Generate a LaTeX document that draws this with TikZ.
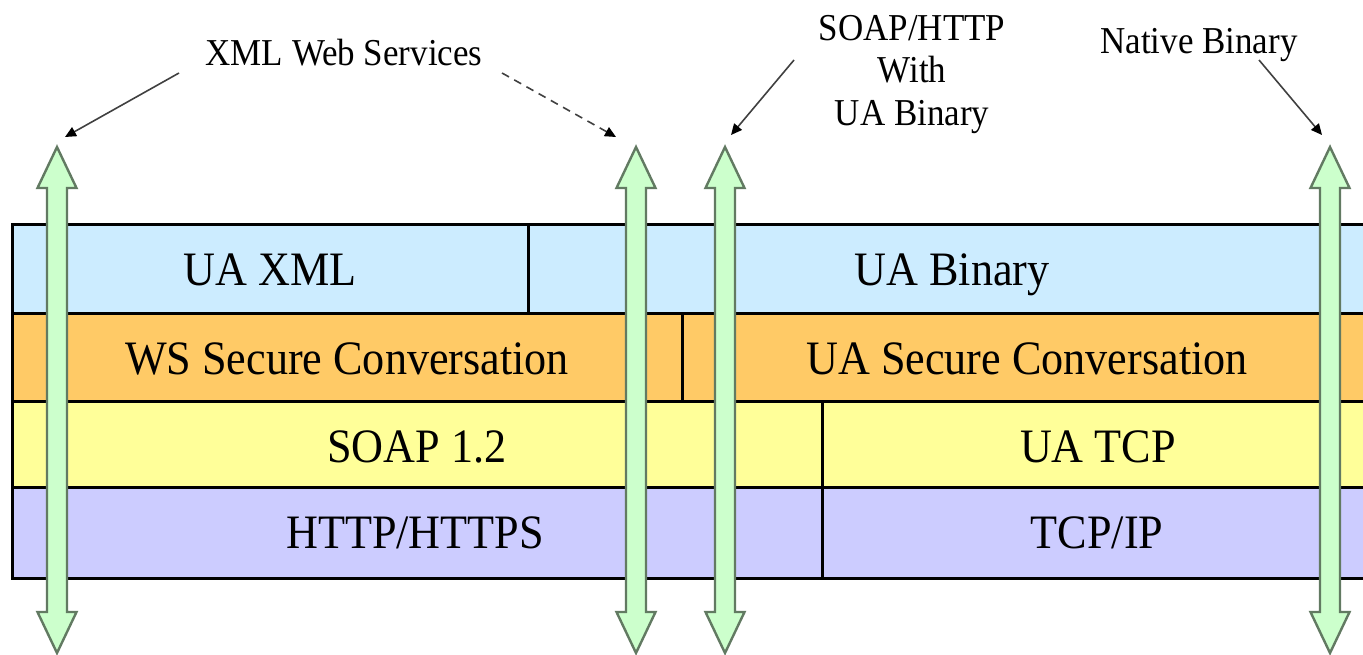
\documentclass[tikz,border=0pt]{standalone}
\usepackage{fontspec}
\setmainfont[FakeStretch=0.92]{Liberation Serif}
\usetikzlibrary{arrows.meta}

\definecolor{layerblue}{HTML}{CCECFF}
\definecolor{layerorange}{HTML}{FFCA66}
\definecolor{layeryellow}{HTML}{FFFF99}
\definecolor{layerpurple}{HTML}{CCCCFF}
\definecolor{pathgreen}{HTML}{CCFFCC}
\definecolor{pathedge}{HTML}{627A62}
\definecolor{pointer}{HTML}{404040}

\tikzset{
  cell/.style={draw=black, line width=1.5pt},
  layertext/.style={inner sep=0pt, anchor=base, font=\fontsize{24}{28}\selectfont},
  tagtext/.style={inner sep=0pt, anchor=base, font=\fontsize{19}{21}\selectfont, align=center},
  pointerline/.style={draw=pointer, line width=0.8pt,
    -{Triangle[length=5.5pt,width=5pt,color=black,fill=black]}},
  dashedpointer/.style={pointerline, dash pattern=on 4pt off 3pt},
  flowarrow/.style={fill=pathgreen, draw=pathedge, line width=1.2pt, line join=miter},
}

% vertical two-headed arrow centred on x = #1
\newcommand{\flowpath}[1]{%
  \draw[flowarrow] (#1,147) -- (#1+19.5,188) -- (#1+10,188) -- (#1+10,612)
    -- (#1+19.5,612) -- (#1,653) -- (#1-19.5,612) -- (#1-10,612)
    -- (#1-10,188) -- (#1-19.5,188) -- cycle;}

\begin{document}
\begin{tikzpicture}[x=0.5pt, y=-0.5pt]
  \useasboundingbox (0,0) rectangle (1363,654);
  \clip (0,0) rectangle (1363,654);

  % protocol layers
  \draw[cell, fill=layerblue]   (12,224) rectangle (528,313);
  \draw[cell, fill=layerblue]   (528,224) rectangle (1380,313);
  \draw[cell, fill=layerorange] (12,313) rectangle (682,401);
  \draw[cell, fill=layerorange] (682,313) rectangle (1380,401);
  \draw[cell, fill=layeryellow] (12,401) rectangle (822,487);
  \draw[cell, fill=layeryellow] (822,401) rectangle (1380,487);
  \draw[cell, fill=layerpurple] (12,487) rectangle (822,578);
  \draw[cell, fill=layerpurple] (822,487) rectangle (1380,578);

  \node[layertext] (uaxml)  at (270,285)  {UA XML};
  \node[layertext] (uabin)  at (952,285)  {UA Binary};
  \node[layertext] (wssc)   at (347,374)  {WS Secure Conversation};
  \node[layertext] (uasc)   at (1027,374) {UA Secure Conversation};
  \node[layertext] (soap)   at (417,462)  {SOAP 1.2};
  \node[layertext] (uatcp)  at (1098,462) {UA TCP};
  \node[layertext] (http)   at (415,548)  {HTTP/HTTPS};
  \node[layertext] (tcpip)  at (1097,548) {TCP/IP};

  % transport mappings
  \flowpath{57}
  \flowpath{636}
  \flowpath{725}
  \flowpath{1330}

  % mapping labels
  \node[tagtext] (xmlws)  at (344,65)  {XML Web Services};
  \node[tagtext] (soapa)  at (912,40)  {SOAP/HTTP};
  \node[tagtext] (soapb)  at (912,82)  {With};
  \node[tagtext] (soapc)  at (912,125) {UA Binary};
  \node[tagtext] (native) at (1199,53) {Native Binary};

  \coordinate (xmlfromL) at (179,73);
  \coordinate (xmlfromR) at (502,73);
  \coordinate (soapfrom) at (794,60);
  \coordinate (natfrom)  at (1259,60);
  \coordinate (tipA) at (65,137);
  \coordinate (tipB) at (616,137);
  \coordinate (tipC) at (731,135);
  \coordinate (tipD) at (1322,135);

  \draw[pointerline]   (xmlfromL) -- (tipA);
  \draw[dashedpointer] (xmlfromR) -- (tipB);
  \draw[pointerline]   (soapfrom) -- (tipC);
  \draw[pointerline]   (natfrom)  -- (tipD);
\end{tikzpicture}
\end{document}
